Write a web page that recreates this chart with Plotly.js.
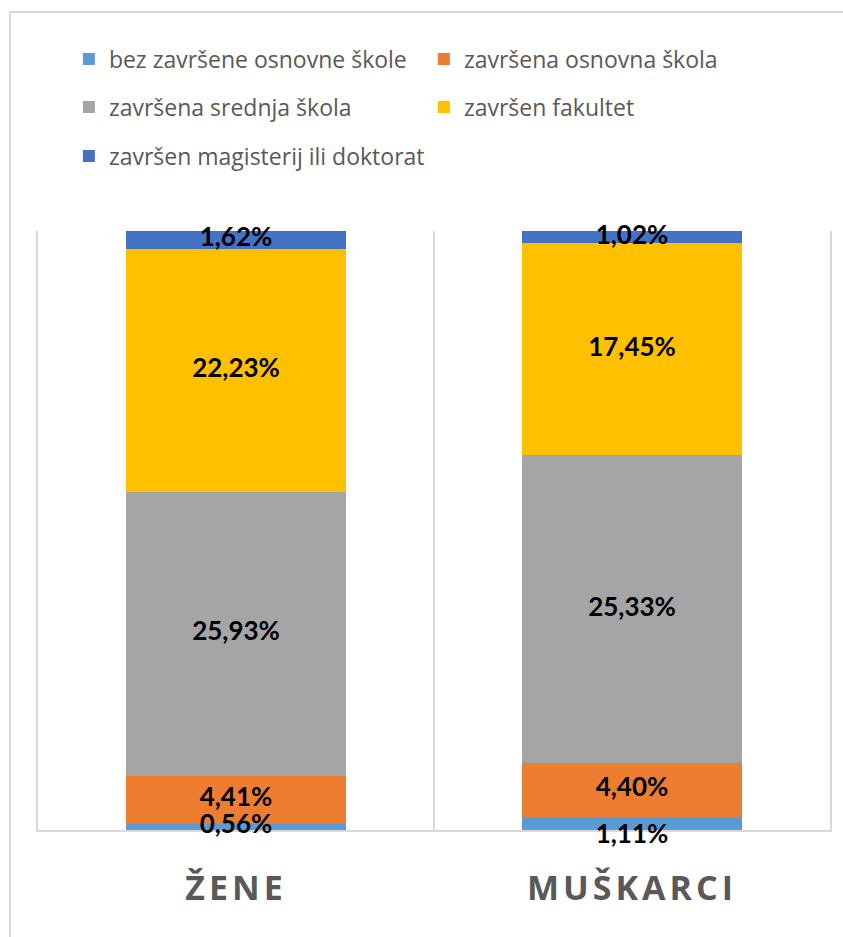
<!DOCTYPE html>
<html>
<head>
<meta charset="utf-8">
<script src="https://cdn.plot.ly/plotly-3.0.1.min.js"></script>
<style>
  html, body { margin: 0; padding: 0; background: #fff; }
  #wrap { position: relative; width: 843px; height: 937px; overflow: hidden; }
  #chart { width: 843px; height: 937px; }
  #frame { position: absolute; left: 9px; top: 11px; width: 900px; height: 1000px;
           border: 2px solid #d9d9d9; pointer-events: none; box-sizing: border-box; }
  .xtick text { letter-spacing: 4px; }
</style>
</head>
<body>
<div id="wrap">
  <div id="chart"></div>
  <div id="frame"></div>
</div>
<script>
const categories = ['ŽENE', 'MUŠKARCI'];
const seriesNames = [
  'bez završene osnovne škole',
  'završena osnovna škola',
  'završena srednja škola',
  'završen fakultet',
  'završen magisterij ili doktorat'
];
const bezOsnovne = [0.56, 1.11];
const osnovna = [4.41, 4.40];
const srednja = [25.93, 25.33];
const fakultet = [22.23, 17.45];
const magisterij = [1.62, 1.02];
const colors = ['#5B9BD5', '#ED7D31', '#A5A5A5', '#FFC000', '#4472C4'];

const seriesValues = [bezOsnovne, osnovna, srednja, fakultet, magisterij];
const legendIds = ['legend', 'legend', 'legend2', 'legend2', 'legend3'];

const fmt = v => v.toFixed(2).replace('.', ',') + '%';

const traces = seriesValues.map((vals, i) => ({
  type: 'bar',
  name: seriesNames[i],
  x: categories,
  y: vals,
  marker: { color: colors[i], line: { width: 0 } },
  hoverinfo: 'skip',
  legend: legendIds[i]
}));

// data labels: centred in each (100%-normalised) segment
const totals = categories.map((_, c) => seriesValues.reduce((s, arr) => s + arr[c], 0));
const lx = [], ly = [], lt = [], lp = [];
categories.forEach((cat, c) => {
  let cum = 0;
  seriesValues.forEach((arr, s) => {
    const v = arr[c];
    lx.push(cat);
    ly.push((cum + v / 2) / totals[c] * 100);
    lt.push(fmt(v));
    // the men's bottom label sits just under its thin segment, as in the original
    lp.push(c === 1 && s === 0 ? 'bottom center' : 'middle center');
    cum += v;
  });
});
traces.push({
  type: 'scatter',
  mode: 'text',
  x: lx,
  y: ly,
  text: lt,
  textposition: lp,
  textfont: { family: 'Lato, sans-serif', size: 26, color: '#000000', weight: 'bold' },
  cliponaxis: false,
  showlegend: false,
  hoverinfo: 'skip'
});

const legendBase = {
  orientation: 'h',
  xanchor: 'left',
  yanchor: 'middle',
  x: 0.039,
  entrywidth: 310,
  entrywidthmode: 'pixels',
  font: { family: '"Open Sans", sans-serif', size: 23, color: '#595959' },
  bgcolor: 'rgba(0,0,0,0)',
  traceorder: 'normal'
};

const layout = {
  width: 843,
  height: 937,
  margin: { l: 38, r: 13, t: 231, b: 107 },
  paper_bgcolor: '#ffffff',
  plot_bgcolor: '#ffffff',
  barmode: 'stack',
  barnorm: 'percent',
  bargap: 0.444,
  showlegend: true,
  legend: Object.assign({}, legendBase, { y: 1.287 }),
  legend2: Object.assign({}, legendBase, { y: 1.207 }),
  legend3: Object.assign({}, legendBase, { y: 1.125, entrywidth: 420 }),
  xaxis: {
    type: 'category',
    range: [-0.5, 1.5],
    tickson: 'boundaries',
    showgrid: true,
    gridcolor: '#d9d9d9',
    gridwidth: 2,
    showline: true,
    linecolor: '#d9d9d9',
    linewidth: 2,
    ticks: '',
    layer: 'below traces',
    ticklabelstandoff: 27,
    tickfont: { family: '"Open Sans", sans-serif', size: 34, color: '#595959', weight: 'bold' },
    zeroline: false,
    fixedrange: true
  },
  yaxis: {
    range: [0, 100],
    visible: true,
    showticklabels: false,
    ticks: '',
    showgrid: false,
    showline: true,
    mirror: true,
    linecolor: '#d9d9d9',
    linewidth: 2,
    layer: 'below traces',
    zeroline: false,
    fixedrange: true
  }
};

Plotly.newPlot('chart', traces, layout, { displayModeBar: false, staticPlot: true });
</script>
</body>
</html>
